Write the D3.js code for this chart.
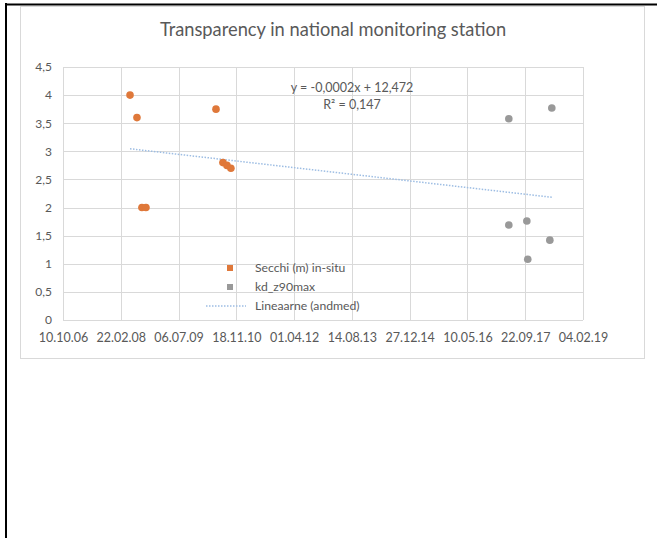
<!DOCTYPE html>
<html>
<head>
<meta charset="utf-8">
<script src="https://cdn.jsdelivr.net/npm/d3@7"></script>
<style>
  html, body { margin: 0; padding: 0; background: #fff; }
  svg { display: block; }
  text { font-family: Lato, "Open Sans", sans-serif; fill: #595959; }
</style>
</head>
<body>
<svg id="chart" width="657" height="538"></svg>
<script>
// ---- data ----
const title = "Transparency in national monitoring station";
const xTickLabels = ["10.10.06","22.02.08","06.07.09","18.11.10","01.04.12","14.08.13","27.12.14","10.05.16","22.09.17","04.02.19"];
const yTicks = [0, 0.5, 1, 1.5, 2, 2.5, 3, 3.5, 4, 4.5];

const secchiDates  = ["2008-05-12","2008-07-11","2008-08-23","2008-09-27","2010-05-26","2010-07-25","2010-08-29","2010-10-02"];
const secchiValues = [4.0, 3.6, 2.0, 2.0, 3.75, 2.8, 2.75, 2.7];

const kdDates  = ["2017-05-03","2017-05-03","2017-10-06","2017-10-14","2018-04-23","2018-05-10"];
const kdValues = [3.58, 1.69, 1.76, 1.08, 1.42, 3.77];

const seriesNames = ["Secchi (m) in-situ", "kd_z90max", "Lineaarne (andmed)"];
const equationLines = ["y = -0,0002x + 12,472", "R\u00b2 = 0,147"];

// ---- layout ----
const svg = d3.select("#chart");
const parseISO = d3.utcParse("%Y-%m-%d");
const parseTick = d3.utcParse("%d.%m.%y");
const plot = { left: 63, right: 583, top: 67, bottom: 320 };

const tickDates = xTickLabels.map(parseTick);
const x = d3.scaleUtc().domain([tickDates[0], tickDates[tickDates.length - 1]]).range([plot.left, plot.right]);
const y = d3.scaleLinear().domain([0, 4.5]).range([plot.bottom, plot.top]);

const secchi = secchiDates.map((d, i) => ({ date: parseISO(d), v: secchiValues[i] }));
const kd = kdDates.map((d, i) => ({ date: parseISO(d), v: kdValues[i] }));

// page borders (table cell)
svg.append("line").attr("x1", 6).attr("x2", 6).attr("y1", 3).attr("y2", 538).attr("stroke", "#000").attr("stroke-width", 2);
svg.append("line").attr("x1", 5).attr("x2", 657).attr("y1", 4.5).attr("y2", 4.5).attr("stroke", "#000").attr("stroke-width", 2);

// chart frame
svg.append("rect").attr("x", 20.5).attr("y", 6.5).attr("width", 624).attr("height", 352)
  .attr("fill", "#fff").attr("stroke", "#d9d9d9");

// title
svg.append("text").attr("x", 333).attr("y", 36).attr("text-anchor", "middle")
  .attr("font-size", 18.3).text(title);

// gridlines
const grid = svg.append("g");
grid.selectAll("line.h").data(yTicks).join("line")
  .attr("x1", plot.left).attr("x2", plot.right)
  .attr("y1", d => Math.round(y(d)) + 0.5).attr("y2", d => Math.round(y(d)) + 0.5)
  .attr("stroke", "#d9d9d9");
grid.selectAll("line.v").data(tickDates).join("line")
  .attr("x1", d => Math.round(x(d)) + 0.5).attr("x2", d => Math.round(x(d)) + 0.5)
  .attr("y1", plot.top).attr("y2", plot.bottom)
  .attr("stroke", "#d9d9d9");

// axes (labels only)
const yAxis = d3.axisLeft(y).tickValues(yTicks).tickSize(0).tickPadding(11)
  .tickFormat(d => String(d).replace(".", ","));
svg.append("g").attr("transform", `translate(${plot.left},0)`).call(yAxis)
  .call(g => g.select(".domain").remove())
  .call(g => g.selectAll("text").attr("font-size", 12).attr("fill", "#595959").style("font-family", "Lato"));

const xAxis = d3.axisBottom(x).tickValues(tickDates).tickSize(0).tickPadding(13)
  .tickFormat((d, i) => xTickLabels[i]);
svg.append("g").attr("transform", `translate(0,${plot.bottom})`).call(xAxis)
  .call(g => g.select(".domain").remove())
  .call(g => g.selectAll("text").attr("font-size", 12.5).attr("fill", "#595959").style("font-family", "Lato"));

// linear trendline over all points
const all = secchi.concat(kd);
const xs = all.map(d => +d.date), ys = all.map(d => d.v);
const mx = d3.mean(xs), my = d3.mean(ys);
const slope = d3.sum(xs.map((xv, i) => (xv - mx) * (ys[i] - my))) / d3.sum(xs.map(xv => (xv - mx) ** 2));
const icpt = my - slope * mx;
const [x0, x1] = d3.extent(xs);
svg.append("line")
  .attr("x1", x(new Date(x0))).attr("y1", y(icpt + slope * x0))
  .attr("x2", x(new Date(x1))).attr("y2", y(icpt + slope * x1))
  .attr("stroke", "#9dbde3").attr("stroke-width", 1.5).attr("stroke-dasharray", "1.5,1.5");

// points
svg.append("g").selectAll("circle").data(secchi).join("circle")
  .attr("cx", d => x(d.date)).attr("cy", d => y(d.v)).attr("r", 3.8).attr("fill", "#df783a");
svg.append("g").selectAll("circle").data(kd).join("circle")
  .attr("cx", d => x(d.date)).attr("cy", d => y(d.v)).attr("r", 3.8).attr("fill", "#999999");

// equation
svg.selectAll("text.eq").data(equationLines).join("text").attr("class", "eq")
  .attr("x", 352).attr("y", (d, i) => 92 + i * 17).attr("text-anchor", "middle")
  .attr("font-size", 12.5).text(d => d);

// legend
const leg = svg.append("g");
const legY = [268, 287, 306];
leg.append("rect").attr("x", 227).attr("y", legY[0] - 3).attr("width", 6).attr("height", 6).attr("fill", "#df783a");
leg.append("rect").attr("x", 227).attr("y", legY[1] - 3).attr("width", 6).attr("height", 6).attr("fill", "#999999");
leg.append("line").attr("x1", 206).attr("x2", 246).attr("y1", legY[2]).attr("y2", legY[2])
  .attr("stroke", "#9dbde3").attr("stroke-width", 1.5).attr("stroke-dasharray", "1.5,1.5");
leg.selectAll("text").data(seriesNames).join("text")
  .attr("x", 255).attr("y", (d, i) => legY[i] + 4).attr("font-size", 12.2).text(d => d);
</script>
</body>
</html>
